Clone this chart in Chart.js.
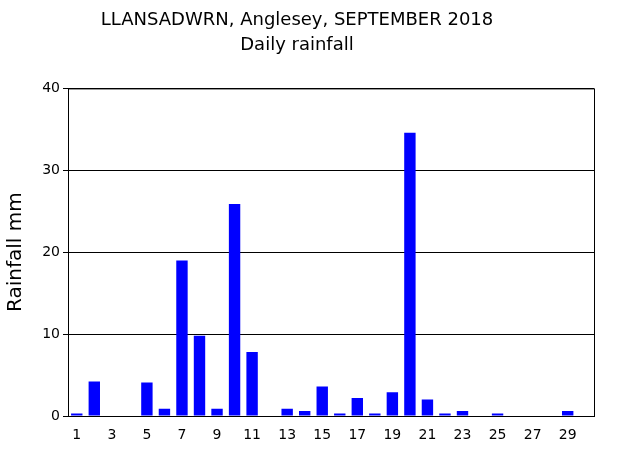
<!DOCTYPE html>
<html><head><script src="https://cdn.jsdelivr.net/npm/chart.js"></script>
<style>body{margin:0;background:#fff}#w{width:623px;height:450px}</style></head>
<body><div id="w"><canvas id="c"></canvas></div>
<script>
const days = Array.from({length:30},(_,i)=>String(i+1));
const rainfall = [0.3,4.2,0,0,4.1,0.9,19,9.8,0.9,25.9,7.8,0,0.9,0.6,3.6,0.3,2.2,0.3,2.9,34.6,2.0,0.3,0.6,0,0.3,0,0,0,0.6,0];
const yTicks = [0,10,20,30,40];
const titleLines = ['LLANSADWRN, Anglesey, SEPTEMBER 2018','Daily rainfall'];
const border = {id:'b',afterDraw(c){const a=c.chartArea,x=c.ctx;x.save();x.strokeStyle='#000';x.lineWidth=1;x.strokeRect(a.left+0.5,a.top+0.5,a.right-a.left,a.bottom-a.top);x.restore();}};
new Chart(document.getElementById('c'),{
type:'bar',
data:{labels:days,datasets:[{data:rainfall,backgroundColor:'#0000ff',barPercentage:0.65,categoryPercentage:1}]},
options:{responsive:true,maintainAspectRatio:false,animation:false,
layout:{padding:{left:0,right:29,top:0,bottom:0}},
plugins:{legend:{display:false},tooltip:{enabled:false},
title:{display:true,text:titleLines,color:'#000',font:{family:'DejaVu Sans',size:18,weight:'normal',lineHeight:1.4},padding:{top:8,bottom:30}}},
scales:{
x:{grid:{display:false},border:{display:false},afterFit(s){s.height=34;},
ticks:{color:'#000',font:{family:'DejaVu Sans',size:14},maxRotation:0,autoSkip:false,callback:(v,i)=>i%2===0?days[i]:''}},
y:{min:0,max:40,afterFit(s){s.width=68;},afterBuildTicks(s){s.ticks=yTicks.map(v=>({value:v}));},
grid:{color:'#000',drawTicks:true,tickLength:5},border:{display:false},
title:{display:true,text:'Rainfall mm',color:'#000',font:{family:'DejaVu Sans',size:20}},
ticks:{color:'#000',font:{family:'DejaVu Sans',size:14}}}}},
plugins:[border]});
</script></body></html>
